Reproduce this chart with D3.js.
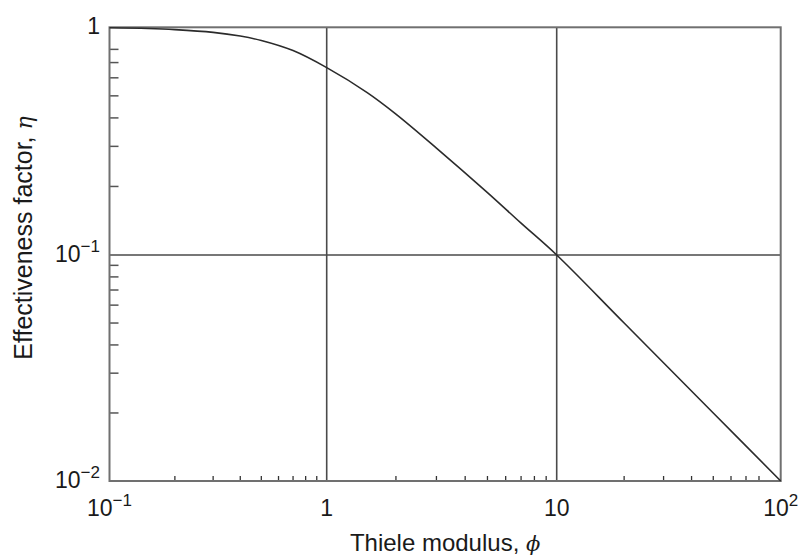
<!DOCTYPE html>
<html>
<head>
<meta charset="utf-8">
<script src="https://cdn.jsdelivr.net/npm/d3@7"></script>
<style>
  body { margin: 0; background: #fff; }
  text { font-family: "Liberation Sans", Arial, Helvetica, sans-serif; fill: #1a1a1a; }
</style>
</head>
<body>
<svg id="chart" width="801" height="556"></svg>
<script>
// Effectiveness factor vs Thiele modulus (log–log)
const phi = [0.1, 0.15, 0.2, 0.3, 0.4, 0.5, 0.7, 1, 1.5, 2, 3, 5, 7, 10, 20, 50, 100];
const eta = [0.995, 0.988, 0.977, 0.95, 0.915, 0.875, 0.79, 0.665, 0.517, 0.416, 0.295, 0.188, 0.138, 0.1, 0.05, 0.02, 0.01];

// axis ticks and labels
const xMajor = [0.1, 1, 10, 100];
const xMajorBase = ["10", "1", "10", "10"];
const xMajorExp = ["−1", "", "", "2"];
const yMajor = [1, 0.1, 0.01];
const yMajorBase = ["1", "10", "10"];
const yMajorExp = ["", "−1", "−2"];
const xMinor = [0.2, 0.3, 0.4, 0.5, 0.6, 0.7, 0.8, 0.9, 2, 3, 4, 5, 6, 7, 8, 9, 20, 30, 40, 50, 60, 70, 80];
const yMinor = [0.8, 0.7, 0.6, 0.5, 0.4, 0.3, 0.2, 0.09, 0.08, 0.07, 0.06, 0.05, 0.04, 0.03, 0.02];
const xGrid = [1, 10];
const yGrid = [0.1];

const xTitle = "Thiele modulus, ";
const xTitleSym = "ϕ";
const yTitle = "Effectiveness factor, ";
const yTitleSym = "η";

const svg = d3.select("#chart");

const x = d3.scaleLog().domain([0.1, 1, 10, 100]).range([109.5, 326.7, 556.7, 780.7]);
const y = d3.scaleLog().domain([0.01, 0.1, 1]).range([481, 255, 27.3]);

const frameColor = "#707070";
const gridColor = "#4a4a4a";

// grid lines at the inner decades
svg.append("g").selectAll("line").data(xGrid).join("line")
  .attr("x1", d => x(d)).attr("x2", d => x(d))
  .attr("y1", y(1)).attr("y2", y(0.01))
  .attr("stroke", gridColor).attr("stroke-width", 1.6);
svg.append("g").selectAll("line").data(yGrid).join("line")
  .attr("x1", x(0.1)).attr("x2", x(100))
  .attr("y1", d => y(d)).attr("y2", d => y(d))
  .attr("stroke", gridColor).attr("stroke-width", 1.6);

// minor ticks pointing into the plot
svg.append("g").selectAll("line").data(xMinor).join("line")
  .attr("x1", d => x(d)).attr("x2", d => x(d))
  .attr("y1", y(0.01)).attr("y2", y(0.01) - 5)
  .attr("stroke", "#333").attr("stroke-width", 1.3);
svg.append("g").selectAll("line").data(yMinor).join("line")
  .attr("x1", x(0.1)).attr("x2", x(0.1) + 9)
  .attr("y1", d => y(d)).attr("y2", d => y(d))
  .attr("stroke", "#555").attr("stroke-width", 1.5);

// frame
svg.append("rect")
  .attr("x", x(0.1)).attr("y", y(1))
  .attr("width", x(100) - x(0.1)).attr("height", y(0.01) - y(1))
  .attr("fill", "none").attr("stroke", frameColor).attr("stroke-width", 2);

// curve
const line = d3.line()
  .x((d, i) => x(phi[i]))
  .y(d => y(d))
  .curve(d3.curveCatmullRom.alpha(0.5));
svg.append("path")
  .attr("d", line(eta))
  .attr("fill", "none").attr("stroke", "#2b2b2b").attr("stroke-width", 1.6);

// x tick labels
const xl = svg.append("g").selectAll("text").data(xMajor).join("text")
  .attr("x", d => x(d)).attr("y", 516)
  .attr("text-anchor", "middle")
  .attr("font-size", 23);
xl.append("tspan").text((d, i) => xMajorBase[i]);
xl.append("tspan").attr("font-size", 17).attr("dy", -10).text((d, i) => xMajorExp[i]);

// y tick labels
const yl = svg.append("g").selectAll("text").data(yMajor).join("text")
  .attr("x", 100).attr("y", d => y(d) + 7)
  .attr("text-anchor", "end")
  .attr("font-size", 23);
yl.append("tspan").text((d, i) => yMajorBase[i]);
yl.append("tspan").attr("font-size", 17).attr("dy", -10).text((d, i) => yMajorExp[i]);

// axis titles
const xt = svg.append("text")
  .attr("x", (x(0.1) + x(100)) / 2).attr("y", 551)
  .attr("text-anchor", "middle").attr("font-size", 24);
xt.append("tspan").text(xTitle);
xt.append("tspan").attr("font-style", "italic").attr("font-family", "DejaVu Serif, serif").attr("font-size", 21).text(xTitleSym);

const yt = svg.append("text")
  .attr("transform", "translate(32,238) rotate(-90)")
  .attr("text-anchor", "middle").attr("font-size", 25);
yt.append("tspan").text(yTitle);
yt.append("tspan").attr("font-style", "italic").attr("font-family", "DejaVu Serif, serif").attr("font-size", 22).text(yTitleSym);
</script>
</body>
</html>
